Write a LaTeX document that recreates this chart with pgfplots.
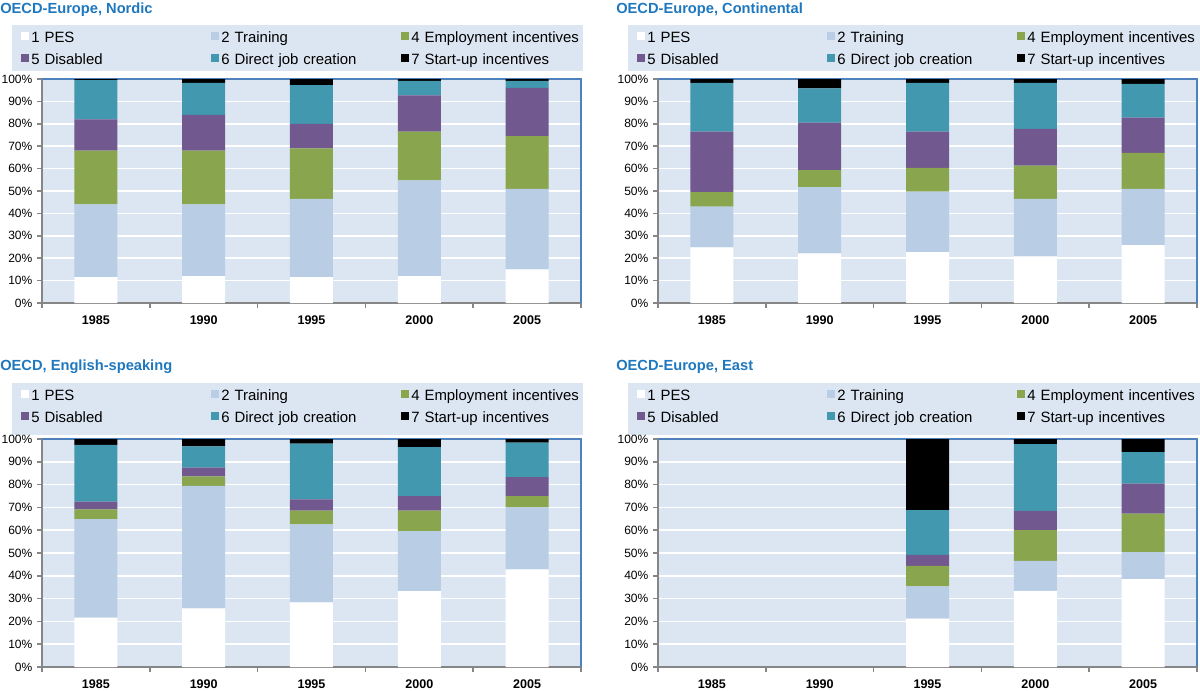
\documentclass[border=0pt]{standalone}
\usepackage{fontspec}
\setmainfont{Liberation Sans}
\usepackage{pgfplots}
\pgfplotsset{compat=1.18}
\usepackage{pgfplotstable}

\definecolor{plotbg}{RGB}{220,230,242}
\definecolor{legbg}{RGB}{220,230,242}
\definecolor{ctr}{RGB}{185,205,229}
\definecolor{cemp}{RGB}{137,165,78}
\definecolor{cdis}{RGB}{113,88,143}
\definecolor{cdjc}{RGB}{66,152,175}
\definecolor{titleblue}{RGB}{31,120,190}
\definecolor{bordblue}{RGB}{79,129,189}
\definecolor{axgray}{RGB}{134,134,134}

\pgfplotstableread{
x pes tr emp dis djc su
0 11.5 32.5 24.0 14.0 17.5 0.5
1 12.0 32.0 24.0 16.0 14.3 1.7
2 11.5 35.0 22.5 11.0 17.3 2.7
3 12.0 42.7 21.8 16.2 6.5 0.8
4 15.0 36.0 23.5 21.5 3.2 0.8
}\nordic

\pgfplotstableread{
x pes tr emp dis djc su
0 24.8 18.2 6.5 27.0 21.8 1.7
1 22.2 29.5 7.6 21.2 15.3 4.2
2 22.7 27.0 10.6 16.2 21.8 1.7
3 20.8 25.7 14.8 16.4 20.6 1.7
4 25.8 25.2 16.0 15.8 15.0 2.2
}\continental

\pgfplotstableread{
x pes tr emp dis djc su
0 21.7 43.2 4.2 3.4 24.9 2.6
1 25.7 53.7 4.2 3.8 9.4 3.2
2 28.4 34.2 6.0 4.9 24.5 2.0
3 33.3 26.3 9.0 6.3 21.5 3.6
4 42.8 27.2 4.9 8.4 15.1 1.6
}\english

\pgfplotstableread{
x pes tr emp dis djc su
0 0 0 0 0 0 0
1 0 0 0 0 0 0
2 21.2 14.2 9.0 4.8 19.6 31.2
3 33.4 13.1 13.5 8.5 29.3 2.2
4 38.5 11.9 16.9 13.1 13.8 5.8
}\east

\pgfplotsset{
 panel/.style={
  scale only axis, width=404.25pt,
  ybar stacked, bar width=32.25pt,
  ymin=0, ymax=100, xmin=-0.5, xmax=4.5,
  xtick={0,1,2,3,4}, xticklabels={1985,1990,1995,2000,2005},
  minor xtick={-0.5,0.5,1.5,2.5,3.5,4.5},
  ytick={0,10,...,100},
  yticklabels={0\%,10\%,20\%,30\%,40\%,50\%,60\%,70\%,80\%,90\%,100\%},
  axis x line*=bottom, axis y line*=left,
  axis line style={draw=axgray, line width=1.5pt},
  tick align=outside,
  major tick length=3.75pt, minor tick length=3.75pt,
  major x tick style={draw=none},
  minor x tick style={draw=axgray, line width=1.2pt},
  major y tick style={draw=axgray, line width=1.2pt},
  axis background/.style={fill=plotbg},
  ymajorgrids, major grid style={draw=white, line width=1.2pt},
  /pgf/number format/assume math mode=true,
  yticklabel style={font=\fontsize{9}{10}\selectfont, text=black},
  xticklabel style={font=\bfseries\fontsize{9.4}{10}\selectfont, text=black, yshift=-2pt},
  every axis plot/.append style={draw=none},
  legend columns=3,
  legend image code/.code={\fill[##1] (0pt,1.5pt) rectangle (6pt,7.5pt);},
  legend style={draw=none, fill=none, at={(rel axis cs:0,1)}, anchor=south west,
    xshift=-15.75pt, inner sep=0pt, row sep=6pt,
    font=\fontsize{11.2}{13}\selectfont,
    nodes={text width=133.5pt, inner xsep=1.5pt, inner ysep=0pt,
      text height=8pt, text depth=2.5pt, anchor=base west}},
  clip=false,
 }
}

\newcommand{\bars}[1]{%
  \addplot[fill=white] table[x=x,y=pes]{#1}; \addlegendentry{1 PES}
  \addplot[fill=ctr] table[x=x,y=tr]{#1}; \addlegendentry{2 Training}
  \addplot[fill=cemp] table[x=x,y=emp]{#1}; \addlegendentry{4 Employment incentives}
  \addplot[fill=cdis] table[x=x,y=dis]{#1}; \addlegendentry{5 Disabled}
  \addplot[fill=cdjc] table[x=x,y=djc]{#1}; \addlegendentry{6 Direct job creation}
  \addplot[fill=black] table[x=x,y=su]{#1}; \addlegendentry{7 Start-up incentives}
  \draw[bordblue, line width=1.1pt] (rel axis cs:0,1) -- (rel axis cs:1,1) -- (rel axis cs:1,0);
  \draw[axgray, line width=1.5pt] (rel axis cs:0,1) -- (rel axis cs:0,0) -- (rel axis cs:1,0);
}

\begin{document}
\begin{tikzpicture}
\useasboundingbox (0,0) rectangle (900pt,-517.5pt);
\fill[legbg] (9pt,-18.75pt) rectangle (437.25pt,-53.25pt);
\fill[legbg] (471pt,-18.75pt) rectangle (900pt,-53.25pt);
\fill[legbg] (9pt,-287.25pt) rectangle (437.25pt,-326.25pt);
\fill[legbg] (471pt,-287.25pt) rectangle (900pt,-326.25pt);

\tikzset{ttl/.style={anchor=base west, inner sep=0pt, text=titleblue, font=\bfseries\fontsize{11}{13}\selectfont}}
\node[ttl] at (0pt,-10pt) {OECD-Europe, Nordic};
\node[ttl] at (462pt,-10pt) {OECD-Europe, Continental};
\node[ttl] at (0pt,-278pt) {OECD, English-speaking};
\node[ttl] at (462pt,-278pt) {OECD-Europe, East};

\begin{axis}[panel, height=168pt, at={(31.5pt,-59.25pt)}, anchor=north west, legend style={yshift=8.2pt}]
\bars{\nordic}
\end{axis}

\begin{axis}[panel, height=168pt, at={(493.5pt,-59.25pt)}, anchor=north west, legend style={yshift=8.2pt}]
\bars{\continental}
\end{axis}

\begin{axis}[panel, height=171pt, at={(31.5pt,-329.25pt)}, anchor=north west, legend style={yshift=9.7pt}]
\bars{\english}
\end{axis}

\begin{axis}[panel, height=171pt, at={(493.5pt,-329.25pt)}, anchor=north west, legend style={yshift=9.7pt}]
\bars{\east}
\end{axis}
\end{tikzpicture}
\end{document}
